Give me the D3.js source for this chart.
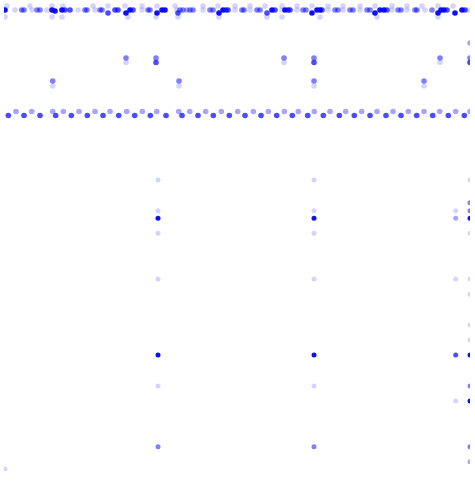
<!DOCTYPE html>
<html>
<head>
<meta charset="utf-8">
<script src="https://cdn.jsdelivr.net/npm/d3@7"></script>
<style>
  html, body { margin: 0; padding: 0; background: #fff; }
  svg { display: block; }
</style>
</head>
<body>
<script>
// ---- data: [x, y] pairs, grouped by point density (opacity level) ----
const faintPoints = [
  [2.5,225.5],[3.5,231],[7.5,229],[15,231],[16,229],[23.5,229],[26,231],[26,225.5],[31.5,231],[31,225.5],
  [39,229],[46.5,231],[47.5,229],[54,231],[62.5,231],[64,225.5],[71,231],[71,229],[78.5,231],[78,225.5],
  [87.5,231],[88.5,229],[89,225.5],[101.5,231],[101.5,229],[109,231],[109.5,225.5],[117.5,231],[117.5,229],
  [125,231],[125,229],[132.5,231],[133.5,225.5],[141,231],[141,229],[141,225.5],[148.5,231],[148.5,229],
  [156,231],[160,225.5],[164,231],[164,229],[171.5,231],[171.5,229],[180,231],[180,229],[187.5,231],
  [188.5,225.5],[196,231],[196,229],[203.5,231],[203.5,229],[211,231],[212.5,229],[219,231],[219,225.5],
  [226.5,231],[234,229],
  [26.35,191],[63,202.75],[89.5,191],[142,202.75],[157,191],[212,191],[220,202.75],
  [79,144],[79,128.65],[79,117.35],[79,94.5],[79,41],
  [157,144],[157,128.65],[157,117.35],[157,94.5],[157,41],
  [235,144],[235,117.35],[235,94.5],[235,86.85],[235,71.5],[235,64],
  [227.85,128.65],[227.85,94.5],[227.85,33.5],
  [2.5,-0.5]
];
const lightRowX = [8,15.85,26.35,31.65,39.5,47.5,55,63.35,71.15,78.35,89.35,94.85,102.85,110.65,118.85,
  126.65,134.15,142.15,149.15,157.15,165,172.85,180.85,188.5,196.5,204.15,212,219.85,227.85,235];
const lightRowY = 178.25;
const lightPoints = [[235,212.5],[235,3.15],[227.85,124.85],[93.5,229]];
const midTopX = [10.85,12,18.5,20,42.5,43.5,50,51,74,75,90,91.5,95,96.5,105,106.5,121,122,128.5,130,
  151.5,153,167.5,169,175,176.5,183.5,185,199,200.5,207.5,208.5,216];
const midTopY = 229;
const midPoints = [
  [26.35,193.5],[63,205],[78,205],[89.5,193.5],[142,205],[157,205],[157,193.5],[212,193.5],[220,205],[235,205],
  [79,10.65],[157,10.65],[235,132.65],[235,128.65],[235,41],[235,10.65]
];
const strongRowX = [4.15,12,20,27.85,35.65,43.65,51.5,59.35,67.35,75.15,83,91,99,106.65,114.65,122.5,130.5,
  138.35,146.15,153.85,161.65,169.65,177.15,185,193,200.5,208.35,216.35,224.15,232.15];
const strongRowY = 176.25;
const strongPoints = [
  [32.5,229],[35,229],[54,227.5],[57.5,229],[59,229],[66.5,229],[89,227.5],[113,229],[114,229],[133.5,227.5],
  [137.5,229],[144,229],[145,229],[161,229],[193.5,229],[223.5,229],[232.5,229],
  [78,202.75],[157,202.75],[235,202.75],[227.85,56.5]
];
const solidPoints = [
  [2.5,229],[26,229],[27.5,228.5],[31,229],[63,227.5],[65,229],[78.5,227.5],[81,229],[82.5,229],[109.5,227.5],
  [111.5,229],[136,229],[142.5,229],[156,227.5],[158.5,229],[160,229],[187.5,227.5],[190,229],[192,229],
  [219,227.5],[220.5,229],[222,229],[227.5,227.5],[231,229],
  [79,124.85],[79,56.5],[157,124.85],[157,56.5],[235,124.85],[235,56.5],[235,33.5]
];
const levels = [
  {name: "faint",  opacity: 0.17, pts: faintPoints},
  {name: "light",  opacity: 0.35, pts: lightPoints.concat(lightRowX.map(x => [x, lightRowY]))},
  {name: "mid",    opacity: 0.5,  pts: midPoints.concat(midTopX.map(x => [x, midTopY]))},
  {name: "strong", opacity: 0.7,  pts: strongPoints.concat(strongRowX.map(x => [x, strongRowY]))},
  {name: "solid",  opacity: 0.95, pts: solidPoints}
];

const W = 475, H = 490;
const svg = d3.select("body").append("svg").attr("width", W).attr("height", H);
svg.append("rect").attr("width", W).attr("height", H).attr("fill", "#fff");

const x = d3.scaleLinear().domain([0, 235]).range([0, 470]);
const y = d3.scaleLinear().domain([0, 234]).range([468, 0]);

svg.append("clipPath").attr("id", "plotclip")
  .append("rect").attr("x", 4).attr("y", 0).attr("width", 466).attr("height", 471);

const g = svg.append("g").attr("clip-path", "url(#plotclip)");
levels.forEach(lv => {
  g.append("g").attr("class", lv.name)
    .selectAll("circle").data(lv.pts).join("circle")
    .attr("cx", d => x(d[0]))
    .attr("cy", d => y(d[1]))
    .attr("r", d => d[1] > 170 ? 2.8 : 2.5)
    .attr("fill", "#0000ff")
    .attr("fill-opacity", lv.opacity);
});
</script>
</body>
</html>
